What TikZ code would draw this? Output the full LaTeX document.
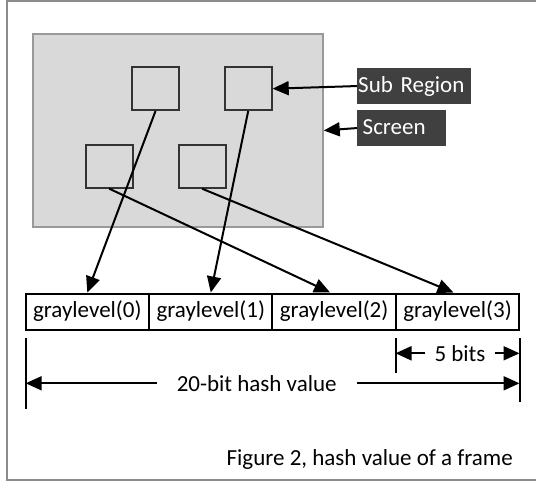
\documentclass[tikz,border=0pt]{standalone}
\usepackage{fontspec}
\setmainfont{Carlito}
\usetikzlibrary{arrows.meta}
\definecolor{framegray}{HTML}{8C8C8C}
\definecolor{screenfill}{HTML}{D9D9D9}
\definecolor{screenedge}{HTML}{999999}
\definecolor{boxedge}{HTML}{333333}
\definecolor{labelfill}{HTML}{404040}
\tikzset{
  every node/.style={font=\fontsize{23}{27}\selectfont},
  subbox/.style={draw=boxedge, line width=2pt, minimum width=47pt, minimum height=42.7pt, inner sep=0pt},
  cell/.style={draw=black, line width=2pt, fill=white, minimum width=123.5pt, minimum height=36pt, inner sep=0pt},
  darklabel/.style={fill=labelfill, text=white, align=left, minimum height=35.7pt, inner ysep=0pt},
  link/.style={line width=2pt, -{Triangle[length=16pt,width=14pt]}},
  dim/.style={line width=2pt, -{Triangle[length=16pt,width=14pt]}},
  tick/.style={line width=2pt}
}
\begin{document}
\begin{tikzpicture}[x=1pt, y=-1pt]
\useasboundingbox (0,0) rectangle (536,482);
% outer frame
\draw[framegray, line width=2pt] (7,1) rectangle (545,480);

% screen area
\node[fill=screenfill, draw=screenedge, line width=1.5pt, minimum width=290pt, minimum height=193pt, inner sep=0pt]
  (screen) at (178,130.5) {};

% sub regions
\node[subbox] (A) at (155.5,88.7) {};
\node[subbox] (B) at (248.2,88.7) {};
\node[subbox] (C) at (109.2,166.3) {};
\node[subbox] (D) at (202,166.3) {};

% labels
\node[darklabel, anchor=north west, text width=112pt, inner xsep=1pt] (sub) at (357,68) {\raisebox{2pt}{Sub Region}};
\node[darklabel, anchor=north west, text width=78pt, inner xsep=5.5pt] (scr) at (357,110) {\raisebox{2pt}{Screen}};
\draw[link] (sub.west) -- (B.east);
\draw[link] (scr.west) -- (screen.east);

% hash cells
\node[cell] (g0) at (87.3,311.5) {graylevel(0)};
\node[cell] (g1) at (210.8,311.5) {graylevel(1)};
\node[cell] (g2) at (334.1,311.5) {graylevel(2)};
\node[cell] (g3) at (457.5,311.5) {graylevel(3)};

% sub region -> gray level
\draw[link] (A.south) -- (g0.north);
\draw[link] (B.south) -- (g1.north);
\draw[link] (C.south) -- ([xshift=-4pt]g2.north);
\draw[link] (D.south) -- ([xshift=-4pt]g3.north);

% dimension ticks
\coordinate (l0) at (25.7,338);
\coordinate (l1) at (25.7,409);
\coordinate (m0) at (395.5,338);
\coordinate (m1) at (395.5,373);
\coordinate (r0) at (519.5,338);
\coordinate (r1) at (519.5,402);
\draw[tick] (l0) -- (l1);
\draw[tick] (m0) -- (m1);
\draw[tick] (r0) -- (r1);

% 5 bits
\node[inner xsep=9pt, inner ysep=0pt] (five) at (460,353.3) {5 bits};
\draw[dim] (five.west) -- (m0 |- five.west);
\draw[dim] (five.east) -- (r0 |- five.east);

% 20-bit hash value
\node[inner xsep=20pt, inner ysep=0pt] (twenty) at (256.7,383.3) {20-bit hash value};
\draw[dim] (twenty.west) -- (l0 |- twenty.west);
\draw[dim] (twenty.east) -- (r0 |- twenty.east);

% caption
\node[anchor=base east, inner sep=0pt] (cap) at (513,465) {Figure 2, hash value of a frame};
\end{tikzpicture}
\end{document}
